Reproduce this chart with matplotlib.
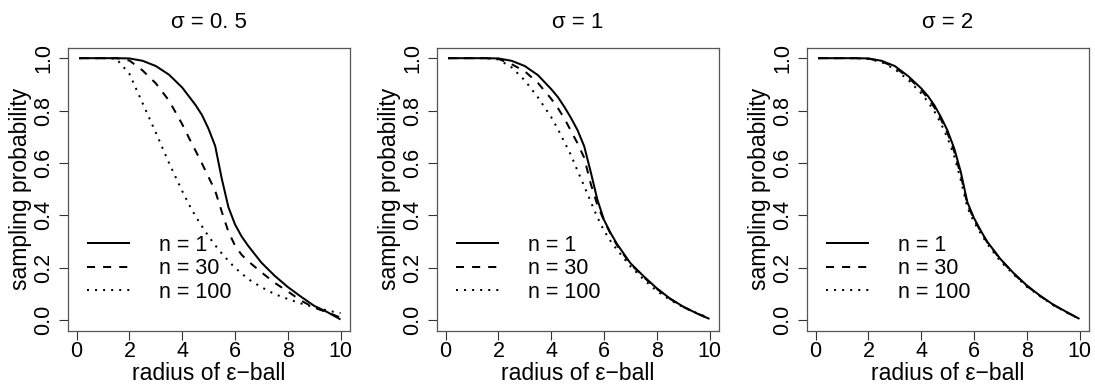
import matplotlib
matplotlib.use("Agg")
import matplotlib.pyplot as plt

plt.rcParams['font.family'] = ['Liberation Sans', 'DejaVu Sans']

# common radius grid
radius = [0.1, 1.0, 1.5, 2.0, 2.5, 3.0, 3.5, 4.0, 4.25, 4.5, 4.75, 5.0, 5.25, 5.5,
          5.75, 6.0, 6.25, 6.5, 7.0, 7.5, 8.0, 8.5, 9.0, 9.5, 10.0]

sigma_titles = ["σ = 0. 5", "σ = 1", "σ = 2"]
legend_labels = ["n = 1", "n = 30", "n = 100"]

# sigma = 0.5
s05_n1 = [1, 1, 1, 0.999, 0.99, 0.97, 0.937, 0.888, 0.855, 0.822, 0.783, 0.73, 0.665,
          0.54, 0.432, 0.366, 0.32, 0.284, 0.22, 0.17, 0.127, 0.09, 0.055, 0.031, 0.003]
s05_n30 = [1, 1, 1, 0.991, 0.953, 0.904, 0.838, 0.748, 0.697, 0.648, 0.598, 0.546, 0.494,
           0.414, 0.338, 0.285, 0.25, 0.225, 0.183, 0.143, 0.11, 0.075, 0.048, 0.03, 0.01]
s05_n100 = [1, 1, 0.998, 0.94, 0.828, 0.716, 0.60, 0.493, 0.443, 0.398, 0.358, 0.32, 0.286,
            0.255, 0.227, 0.20, 0.179, 0.157, 0.126, 0.10, 0.081, 0.064, 0.05, 0.037, 0.027]

# sigma = 1
s1_n1 = [1, 1, 1, 0.999, 0.99, 0.97, 0.935, 0.882, 0.852, 0.814, 0.772, 0.725, 0.664,
         0.565, 0.46, 0.383, 0.333, 0.29, 0.218, 0.168, 0.122, 0.083, 0.052, 0.027, 0.005]
s1_n30 = [1, 1, 1, 0.997, 0.977, 0.95, 0.905, 0.845, 0.81, 0.77, 0.722, 0.675, 0.62,
          0.52, 0.44, 0.38, 0.33, 0.285, 0.215, 0.165, 0.12, 0.082, 0.051, 0.027, 0.005]
s1_n100 = [1, 1, 1, 0.995, 0.965, 0.915, 0.85, 0.775, 0.73, 0.68, 0.63, 0.57, 0.512,
           0.452, 0.393, 0.342, 0.302, 0.268, 0.206, 0.156, 0.112, 0.078, 0.05, 0.028, 0.008]

# sigma = 2
s2_n1 = [1, 1, 1, 0.999, 0.99, 0.97, 0.932, 0.885, 0.856, 0.82, 0.775, 0.723, 0.656,
         0.566, 0.45, 0.39, 0.343, 0.30, 0.234, 0.18, 0.133, 0.094, 0.06, 0.032, 0.005]
s2_n30 = [1, 1, 1, 0.998, 0.988, 0.965, 0.928, 0.878, 0.848, 0.812, 0.766, 0.713, 0.645,
          0.553, 0.443, 0.385, 0.34, 0.298, 0.232, 0.178, 0.131, 0.093, 0.059, 0.031, 0.005]
s2_n100 = [1, 1, 1, 0.997, 0.985, 0.958, 0.918, 0.866, 0.834, 0.797, 0.75, 0.695, 0.627,
           0.535, 0.43, 0.375, 0.332, 0.292, 0.225, 0.175, 0.128, 0.092, 0.058, 0.03, 0.005]

panels = [
    (s05_n1, s05_n30, s05_n100),
    (s1_n1, s1_n30, s1_n100),
    (s2_n1, s2_n30, s2_n100),
]

W, H = 1095, 388
fig = plt.figure(figsize=(W / 100, H / 100), dpi=100)

lefts_px = [67.7, 436.7, 806.7]
ax_w_px = 282.3
ax_bottom_px = 330.7
ax_h_px = 283.0

lw = 1.45
styles = [
    dict(linestyle='-'),
    dict(linestyle=(0, (4, 4))),
    dict(linestyle=(0, (1, 3))),
]

for i, (series, title) in enumerate(zip(panels, sigma_titles)):
    ax = fig.add_axes([lefts_px[i] / W, 1 - ax_bottom_px / H, ax_w_px / W, ax_h_px / H])
    for ys, st, lab in zip(series, styles, legend_labels):
        ax.plot(radius, ys, color='black', lw=lw, label=lab,
                dash_capstyle='butt', solid_capstyle='butt', **st)
    ax.set_xlim(-0.34, 10.36)
    ax.set_ylim(-0.04, 1.04)
    ax.set_xticks([0, 2, 4, 6, 8, 10])
    ax.set_yticks([0.0, 0.2, 0.4, 0.6, 0.8, 1.0])
    ax.set_yticklabels(["0.0", "0.2", "0.4", "0.6", "0.8", "1.0"],
                       rotation=90, va='center')
    ax.tick_params(axis='both', labelsize=15.5, length=6.5, width=0.8, color='#333333')
    ax.tick_params(axis='x', pad=1)
    ax.tick_params(axis='y', pad=3)
    for sp in ax.spines.values():
        sp.set_color('#555555')
        sp.set_linewidth(0.9)
    ax.set_xlabel("radius of ε−ball", fontsize=16.5, labelpad=0)
    ax.set_ylabel("sampling probability", fontsize=16.5, labelpad=1)
    ax.set_title(title, fontsize=16, pad=14)
    leg = ax.legend(loc='lower left', bbox_to_anchor=(0.068, 0.099), frameon=False,
                    fontsize=15.5, handlelength=2.0, handletextpad=1.35,
                    labelspacing=0.12, borderpad=0, borderaxespad=0)

fig.savefig("out.png", dpi=100)
